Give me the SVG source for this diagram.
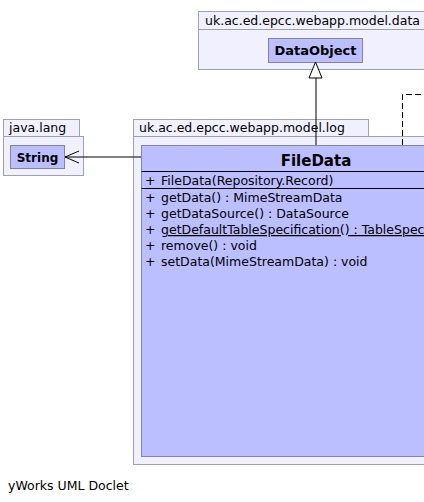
<svg xmlns="http://www.w3.org/2000/svg" width="424" height="502" viewBox="0 0 424 502">
<style>
.pkg{fill:#f0f0ff;stroke:#a0a0b4;stroke-width:1}
.cls{fill:#bbbeff;stroke:#8484a8;stroke-width:1}
.t{font-family:"DejaVu Sans",sans-serif;font-size:12.5px;fill:#000}
.b{font-weight:bold}
.ln{stroke:#000;stroke-width:1;fill:none}
</style>
<rect width="424" height="502" fill="#fff"/>
<g id="pkg-data">
<rect class="pkg" x="198.5" y="11.5" width="230" height="18"/>
<rect class="pkg" x="198.5" y="29.5" width="230" height="40"/>
<text class="t" x="205" y="25">uk.ac.ed.epcc.webapp.model.data</text>
</g>
<g id="DataObject">
<rect class="cls" x="268.5" y="38.5" width="94" height="24"/>
<text class="t b" x="315.5" y="55" text-anchor="middle" style="font-size:13px">DataObject</text>
</g>
<g id="pkg-lang">
<rect class="pkg" x="3.5" y="119.5" width="76" height="17"/>
<rect class="pkg" x="3.5" y="136.5" width="80" height="39"/>
<text class="t" x="9" y="132">java.lang</text>
</g>
<g id="String">
<rect class="cls" x="10.5" y="145.5" width="54" height="23"/>
<text class="t b" x="37.5" y="162" text-anchor="middle" style="font-size:12px">String</text>
</g>
<g id="pkg-log">
<rect class="pkg" x="133.5" y="119.5" width="235" height="17"/>
<rect class="pkg" x="133.5" y="136.5" width="300" height="328"/>
<text class="t" x="139" y="132">uk.ac.ed.epcc.webapp.model.log</text>
</g>
<g id="FileData">
<rect class="cls" x="141.5" y="145.5" width="350" height="311"/>
<text class="t b" x="316" y="166" text-anchor="middle" style="font-size:15px">FileData</text>
<line class="ln" x1="141.5" y1="171.5" x2="491.5" y2="171.5"/>
<text class="t" x="145" y="185">+</text><text class="t" x="161" y="185">FileData(Repository.Record)</text>
<line class="ln" x1="141.5" y1="188.5" x2="491.5" y2="188.5"/>
<text class="t" x="145" y="202">+</text><text class="t" x="161" y="202">getData() : MimeStreamData</text>
<text class="t" x="145" y="218">+</text><text class="t" x="161" y="218">getDataSource() : DataSource</text>
<text class="t" x="145" y="234">+</text><text class="t" x="161" y="234" text-decoration="underline">getDefaultTableSpecification() : TableSpecification</text>
<text class="t" x="145" y="250">+</text><text class="t" x="161" y="250">remove() : void</text>
<text class="t" x="145" y="266">+</text><text class="t" x="161" y="266">setData(MimeStreamData) : void</text>
</g>
<g id="connectors">
<polyline class="ln" points="316,145 316,78"/>
<polygon points="315.5,62 309,78 322,78" fill="#fff" stroke="#000" stroke-width="1"/>
<line class="ln" x1="141" y1="157" x2="65" y2="157"/>
<polyline class="ln" points="79,151 65,157 79,163"/>
<polyline class="ln" points="402.5,145 402.5,94.5 424,94.5" stroke-dasharray="6,3"/>
</g>
<text class="t" x="8" y="490">yWorks UML Doclet</text>
</svg>
